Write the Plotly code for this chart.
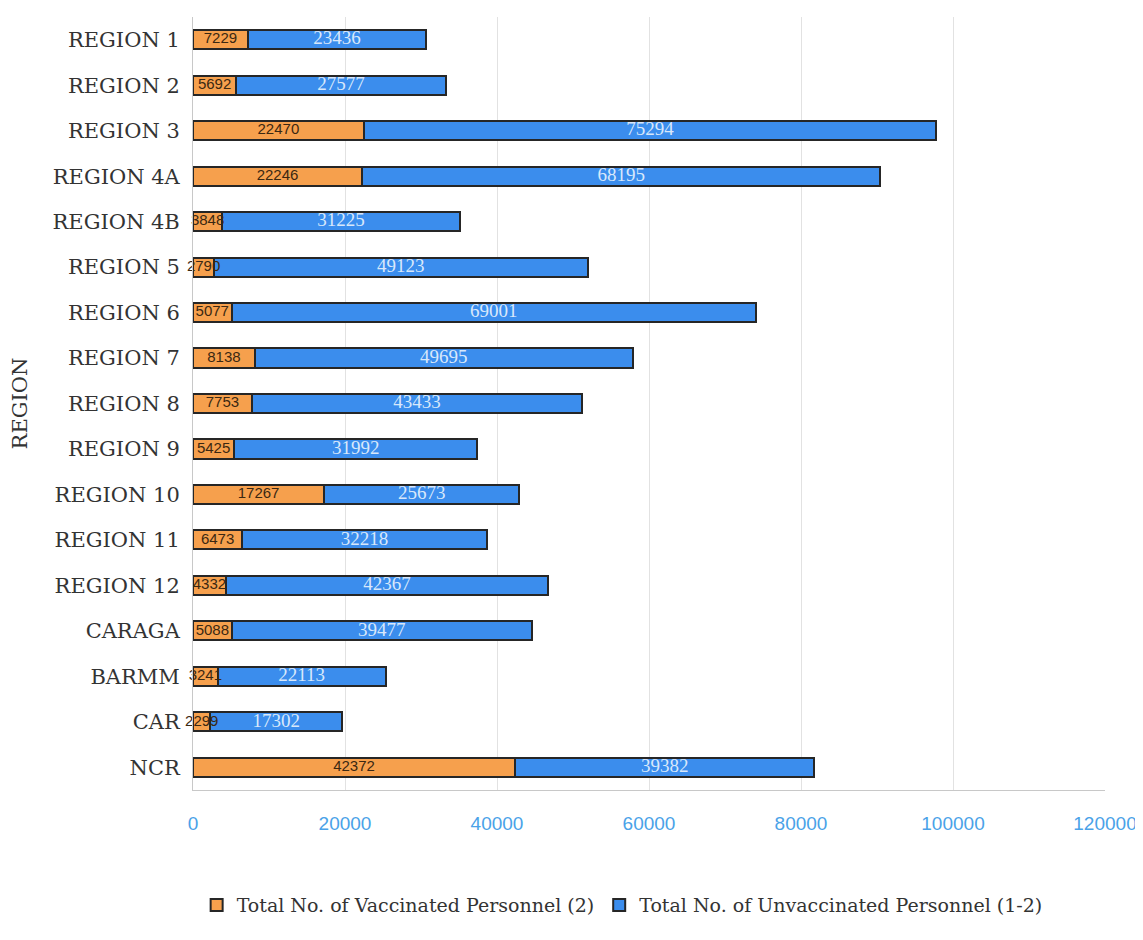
import plotly.graph_objects as go

regions = ["REGION 1", "REGION 2", "REGION 3", "REGION 4A", "REGION 4B", "REGION 5",
           "REGION 6", "REGION 7", "REGION 8", "REGION 9", "REGION 10", "REGION 11",
           "REGION 12", "CARAGA", "BARMM", "CAR", "NCR"]
vaccinated = [7229, 5692, 22470, 22246, 3848, 2790, 5077, 8138, 7753, 5425, 17267,
              6473, 4332, 5088, 3241, 2299, 42372]
unvaccinated = [23436, 27577, 75294, 68195, 31225, 49123, 69001, 49695, 43433, 31992,
                25673, 32218, 42367, 39477, 22113, 17302, 39382]
x_ticks = [0, 20000, 40000, 60000, 80000, 100000, 120000]

ORANGE = "#f6a04d"
BLUE = "#3b8ded"
OUTLINE = "#262626"

fig = go.Figure()
fig.add_trace(go.Bar(
    y=regions, x=vaccinated, orientation="h",
    name="Total No. of Vaccinated Personnel (2)",
    marker=dict(color=ORANGE, line=dict(color=OUTLINE, width=2)),
    hoverinfo="x+y",
))
fig.add_trace(go.Bar(
    y=regions, x=unvaccinated, orientation="h",
    name="Total No. of Unvaccinated Personnel (1-2)",
    marker=dict(color=BLUE, line=dict(color=OUTLINE, width=2)),
    hoverinfo="x+y",
))

# value labels
fig.add_trace(go.Scatter(
    y=regions, x=[v / 2 for v in vaccinated], mode="text",
    text=[str(v) for v in vaccinated], showlegend=False, hoverinfo="skip",
    textfont=dict(family="Liberation Sans Narrow, Arial Narrow, Liberation Sans", size=15, color="#3b2812"),
    cliponaxis=False,
))
fig.add_trace(go.Scatter(
    y=regions, x=[v + u / 2 for v, u in zip(vaccinated, unvaccinated)], mode="text",
    text=[str(u) for u in unvaccinated], showlegend=False, hoverinfo="skip",
    textfont=dict(family="Liberation Serif", size=19, color="#d8e8fb"),
))

fig.update_layout(
    barmode="stack",
    bargap=0.58,
    width=1143, height=940,
    paper_bgcolor="white", plot_bgcolor="white",
    margin=dict(l=185, r=46, t=9, b=158),
    font=dict(family="DejaVu Serif", size=18, color="#333333"),
    legend=dict(orientation="h",
                x=0.004, xanchor="left", y=-0.149, yanchor="middle",
                font=dict(family="DejaVu Serif", size=19, color="#333333"),
                traceorder="normal", itemwidth=30),
    showlegend=True,
)
fig.update_xaxes(
    range=[0, 120000], tickvals=x_ticks, ticktext=[str(t) for t in x_ticks],
    showgrid=True, gridcolor="#e2e2e2", gridwidth=1,
    showline=True, linecolor="#c8c8c8", linewidth=1,
    zeroline=False, ticks="", automargin=False,
    tickfont=dict(family="Liberation Sans Narrow, Liberation Sans", size=19, color="#4aa2e8"),
    ticklabelstandoff=16,
)
fig.update_yaxes(
    range=[len(regions) - 0.5, -0.5], automargin=False,
    title=dict(text="REGION", font=dict(family="DejaVu Serif", size=21, color="#333333"), standoff=36),
    showline=True, linecolor="#c8c8c8", linewidth=1,
    ticks="", showgrid=False,
    tickfont=dict(family="DejaVu Serif", size=21, color="#333333"),
    ticklabelstandoff=8,
)

fig.write_html("out.html")
